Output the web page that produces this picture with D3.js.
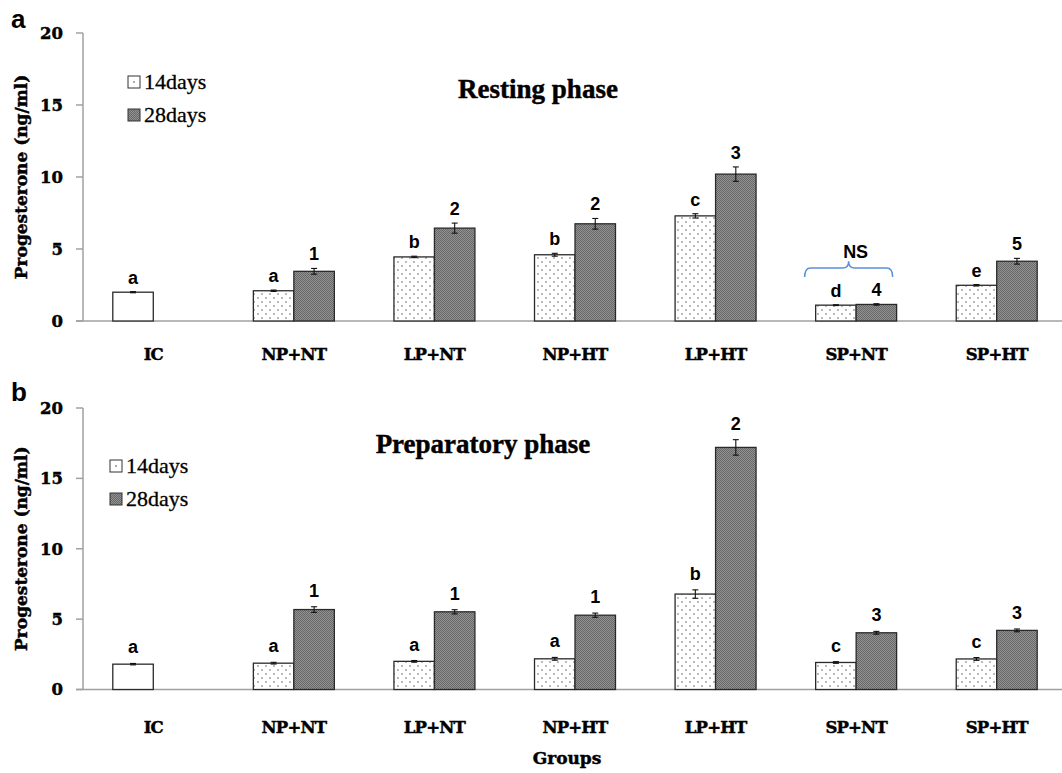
<!DOCTYPE html>
<html>
<head>
<meta charset="utf-8">
<script src="https://cdn.jsdelivr.net/npm/d3@7"></script>
<style>
  body { margin: 0; background: #fff; }
  svg { display: block; }
  .heavy { stroke: #000; stroke-width: 0.45px; }
</style>
</head>
<body>
<div id="chart"></div>
<script>
// groups on the x axis
var groups = ["IC", "NP+NT", "LP+NT", "NP+HT", "LP+HT", "SP+NT", "SP+HT"];
var series = ["14days", "28days"];
var yTicks = [0, 5, 10, 15, 20];

// panel a : resting phase
var restD14 = [2.0, 2.1, 4.45, 4.6, 7.3, 1.1, 2.48];
var restD28 = [null, 3.45, 6.45, 6.75, 10.2, 1.15, 4.15];
var restErr14 = [0.04, 0.05, 0.05, 0.1, 0.15, 0.03, 0.05];
var restErr28 = [null, 0.2, 0.35, 0.37, 0.5, 0.05, 0.2];
var restLab14 = ["a", "a", "b", "b", "c", "d", "e"];
var restLab28 = [null, "1", "2", "2", "3", "4", "5"];

// panel b : preparatory phase
var prepD14 = [1.8, 1.87, 2.0, 2.18, 6.78, 1.92, 2.17];
var prepD28 = [null, 5.68, 5.52, 5.28, 17.2, 4.03, 4.2];
var prepErr14 = [0.05, 0.06, 0.06, 0.1, 0.3, 0.06, 0.1];
var prepErr28 = [null, 0.2, 0.15, 0.15, 0.55, 0.1, 0.1];
var prepLab14 = ["a", "a", "a", "a", "b", "c", "c"];
var prepLab28 = [null, "1", "1", "1", "2", "3", "3"];

// NS bracket over SP+NT in panel a (values in ng/ml)
var nsBracket = {group: "SP+NT", end: 3.05, mid: 3.68, peak: 4.15, text: 4.38};

var W = 1062, H = 773;
var serifWide = "'DejaVu Serif', serif";
var serifTimes = "'Liberation Serif', 'Times New Roman', serif";
var sans = "'Liberation Sans', Arial, sans-serif";

var svg = d3.select("#chart").append("svg")
  .attr("width", W)
  .attr("height", H);

// fill patterns
var defs = svg.append("defs");
var dots = defs.append("pattern")
  .attr("id", "dots")
  .attr("patternUnits", "userSpaceOnUse")
  .attr("width", 8).attr("height", 8);
dots.append("rect").attr("width", 8).attr("height", 8).attr("fill", "#fff");
dots.append("circle").attr("cx", 2).attr("cy", 2).attr("r", 0.75).attr("fill", "#555");
dots.append("circle").attr("cx", 6).attr("cy", 6).attr("r", 0.75).attr("fill", "#555");

var hatch = defs.append("pattern")
  .attr("id", "hatch")
  .attr("patternUnits", "userSpaceOnUse")
  .attr("width", 2).attr("height", 2);
hatch.append("rect").attr("width", 2).attr("height", 2).attr("fill", "#929292");
hatch.append("rect").attr("width", 1).attr("height", 1).attr("fill", "#686868");
hatch.append("rect").attr("x", 1).attr("y", 1).attr("width", 1).attr("height", 1).attr("fill", "#686868");

var x = d3.scaleBand()
  .domain(groups)
  .range([83, 1067])
  .paddingInner(0.424)
  .paddingOuter(0.212);

var xSub = d3.scaleBand()
  .domain(series)
  .range([0, x.bandwidth()]);

function drawPanel(p) {
  var y = d3.scaleLinear().domain([0, 20]).range([p.bottom, p.top]);
  var g = svg.append("g");

  // y axis
  g.append("line")
    .attr("x1", 83).attr("x2", 83)
    .attr("y1", y(20)).attr("y2", y(0))
    .attr("stroke", "#a0a0a0").attr("stroke-width", 1.5);
  g.selectAll(".ytick").data(yTicks).join("line")
    .attr("x1", 76).attr("x2", 83)
    .attr("y1", d => y(d)).attr("y2", d => y(d))
    .attr("stroke", "#a0a0a0").attr("stroke-width", 1.5);
  g.selectAll(".ylab").data(yTicks).join("text")
    .attr("class", "heavy")
    .attr("x", 63)
    .attr("y", d => y(d))
    .attr("dy", "0.36em")
    .attr("text-anchor", "end")
    .style("font-family", serifWide)
    .style("font-weight", "bold")
    .style("font-size", "16.5px")
    .text(d => d);

  // x axis line
  g.append("line")
    .attr("x1", 76).attr("x2", W)
    .attr("y1", y(0)).attr("y2", y(0))
    .attr("stroke", "#a0a0a0").attr("stroke-width", 1.5);

  // y title
  g.append("text")
    .attr("class", "heavy")
    .attr("transform", "translate(27," + ((y(0) + y(20)) / 2) + ") rotate(-90)")
    .attr("text-anchor", "middle")
    .style("font-family", serifWide)
    .style("font-weight", "bold")
    .style("font-size", "17px")
    .text("Progesterone (ng/ml)");

  // bars
  var rows = groups.map(function (grp, i) {
    return [
      {grp: grp, s: "14days", v: p.d14[i], e: p.e14[i], lab: p.l14[i], ic: grp === "IC"},
      {grp: grp, s: "28days", v: p.d28[i], e: p.e28[i], lab: p.l28[i], ic: false}
    ];
  }).flat().filter(d => d.v != null);

  g.selectAll(".bar").data(rows).join("rect")
    .attr("x", d => x(d.grp) + xSub(d.s))
    .attr("y", d => y(d.v))
    .attr("width", xSub.bandwidth())
    .attr("height", d => y(0) - y(d.v))
    .attr("fill", d => d.ic ? "#fff" : (d.s === "14days" ? "url(#dots)" : "url(#hatch)"))
    .attr("stroke", "#2a2a2a")
    .attr("stroke-width", 1.3);

  // error bars
  var eb = g.selectAll(".err").data(rows).join("g")
    .attr("stroke", "#111").attr("stroke-width", 1.1);
  var cx = d => x(d.grp) + xSub(d.s) + xSub.bandwidth() / 2;
  eb.append("line")
    .attr("x1", cx).attr("x2", cx)
    .attr("y1", d => y(d.v + d.e)).attr("y2", d => y(d.v - d.e));
  eb.append("line")
    .attr("x1", d => cx(d) - 3).attr("x2", d => cx(d) + 3)
    .attr("y1", d => y(d.v + d.e)).attr("y2", d => y(d.v + d.e));
  eb.append("line")
    .attr("x1", d => cx(d) - 3).attr("x2", d => cx(d) + 3)
    .attr("y1", d => y(d.v - d.e)).attr("y2", d => y(d.v - d.e));

  // significance letters
  g.selectAll(".lab").data(rows).join("text")
    .attr("x", cx)
    .attr("y", d => y(d.v + d.e) - p.labGap)
    .attr("text-anchor", "middle")
    .style("font-family", sans)
    .style("font-weight", "bold")
    .style("font-size", "18px")
    .text(d => d.lab);

  // x labels
  g.selectAll(".xlab").data(groups).join("text")
    .attr("class", "heavy")
    .attr("x", d => x(d) + x.bandwidth() / 2)
    .attr("y", p.xLabY)
    .attr("text-anchor", "middle")
    .style("font-family", serifWide)
    .style("font-weight", "bold")
    .style("font-size", "16.5px")
    .style("letter-spacing", "-0.8px")
    .text(d => d);

  // title
  g.append("text")
    .attr("class", "heavy")
    .attr("x", p.titleX).attr("y", p.titleY)
    .attr("text-anchor", "middle")
    .style("font-family", serifTimes)
    .style("font-weight", "bold")
    .style("font-size", "27px")
    .text(p.title);

  // panel letter
  g.append("text")
    .attr("x", 11).attr("y", p.letterY)
    .style("font-family", sans)
    .style("font-weight", "bold")
    .style("font-size", "26px")
    .text(p.letter);

  // legend
  var lg = g.selectAll(".leg").data(series).join("g")
    .attr("transform", (d, i) => "translate(" + p.legX + "," + (p.legY + i * 33) + ")");
  lg.append("rect")
    .attr("width", 12).attr("height", 12)
    .attr("fill", d => d === "14days" ? "#fff" : "url(#hatch)")
    .attr("stroke", "#333").attr("stroke-width", 1);
  lg.filter(d => d === "14days").append("circle")
    .attr("cx", 6).attr("cy", 6).attr("r", 0.8).attr("fill", "#444");
  lg.append("text")
    .attr("x", 16).attr("y", 12.5)
    .style("font-family", serifTimes)
    .style("font-size", "22px")
    .style("stroke", "#000")
    .style("stroke-width", "0.3px")
    .text(d => d);

  return y;
}

var yA = drawPanel({
  top: 33, bottom: 321,
  d14: restD14, d28: restD28, e14: restErr14, e28: restErr28, l14: restLab14, l28: restLab28,
  labGap: 8, xLabY: 360, title: "Resting phase", titleX: 538, titleY: 98,
  letter: "a", letterY: 28, legX: 128, legY: 76
});

var yB = drawPanel({
  top: 408, bottom: 689.5,
  d14: prepD14, d28: prepD28, e14: prepErr14, e28: prepErr28, l14: prepLab14, l28: prepLab28,
  labGap: 10, xLabY: 733, title: "Preparatory phase", titleX: 483, titleY: 453,
  letter: "b", letterY: 401, legX: 110, legY: 460
});

// NS bracket (panel a)
var bx0 = x(nsBracket.group) - 11;
var bx1 = x(nsBracket.group) + x.bandwidth() - 4;
var bm = (bx0 + bx1) / 2;
var yE = yA(nsBracket.end), yM = yA(nsBracket.mid), yP = yA(nsBracket.peak);
svg.append("path")
  .attr("d", "M" + bx0 + "," + yE +
    " Q" + bx0 + "," + yM + " " + (bx0 + 6) + "," + yM +
    " L" + (bm - 6) + "," + yM +
    " Q" + bm + "," + yM + " " + bm + "," + yP +
    " Q" + bm + "," + yM + " " + (bm + 6) + "," + yM +
    " L" + (bx1 - 6) + "," + yM +
    " Q" + bx1 + "," + yM + " " + bx1 + "," + yE)
  .attr("fill", "none")
  .attr("stroke", "#5b8fd8")
  .attr("stroke-width", 1.5);
svg.append("text")
  .attr("x", bm + 7)
  .attr("y", yA(nsBracket.text))
  .attr("text-anchor", "middle")
  .style("font-family", sans)
  .style("font-weight", "bold")
  .style("font-size", "18px")
  .text("NS");

// x title
svg.append("text")
  .attr("class", "heavy")
  .attr("x", 567).attr("y", 764)
  .attr("text-anchor", "middle")
  .style("font-family", serifWide)
  .style("font-weight", "bold")
  .style("font-size", "17px")
  .text("Groups");
</script>
</body>
</html>
